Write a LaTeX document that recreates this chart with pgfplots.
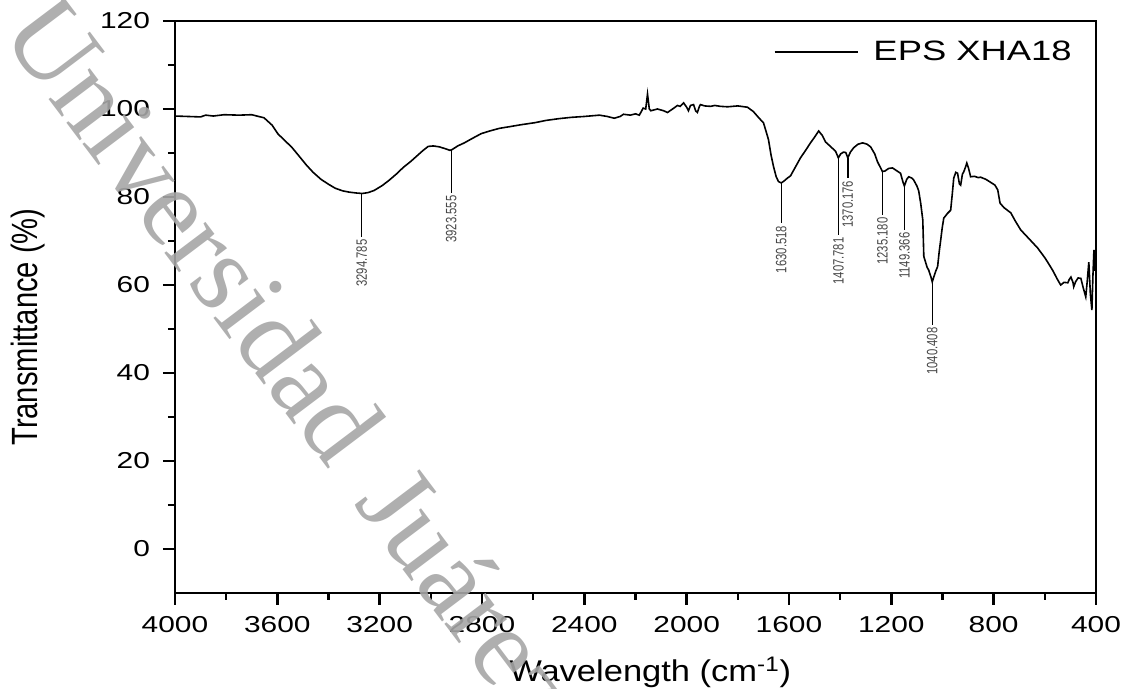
\documentclass[border=0pt]{standalone}
\usepackage{fontspec}
\usepackage{graphicx}
\setmainfont{Liberation Sans}[FakeStretch=1.3]
\newfontfamily\plainsans{Liberation Sans}
\newfontfamily\xlabfont{Liberation Sans}[FakeStretch=1.15]
\newfontfamily\lblfont{Liberation Sans}[FakeStretch=0.75]
\newfontfamily\wmfont{Liberation Serif}
\usepackage{pgfplots}
\usepackage{pgfplotstable}
\pgfplotsset{compat=1.18}

\definecolor{wmgray}{RGB}{166,166,166}
\definecolor{lblgray}{RGB}{70,70,70}

% FTIR spectrum (wavenumber, transmittance %)
\pgfplotstableread{
w t
4000 98.4
3950 98.3
3900 98.2
3880 98.6
3850 98.4
3808 98.7
3750 98.6
3700 98.7
3680 98.4
3652 98.0
3620 96.3
3597 94.3
3570 92.8
3542 91.2
3515 89.3
3487 87.3
3460 85.6
3429 84.0
3400 82.9
3374 82.0
3345 81.4
3319 81.1
3290 80.9
3268 80.8
3245 81.0
3221 81.5
3190 82.6
3163 83.8
3135 85.2
3108 86.7
3080 88.0
3053 89.4
3030 90.6
3010 91.5
2990 91.6
2967 91.4
2945 91.0
2925 90.6
2916 90.8
2895 91.6
2869 92.3
2835 93.4
2803 94.4
2770 95.0
2732 95.6
2690 96.0
2650 96.4
2592 96.9
2550 97.4
2500 97.8
2451 98.1
2400 98.3
2341 98.6
2310 98.3
2283 97.9
2260 98.3
2247 98.8
2220 98.6
2200 98.9
2185 98.6
2170 100.2
2160 100.0
2153 103.4
2146 100.0
2140 99.6
2114 100.0
2090 99.6
2075 99.2
2050 100.2
2036 100.8
2025 100.6
2012 101.4
2000 100.4
1993 99.6
1985 100.8
1973 101.0
1965 99.6
1958 99.2
1950 100.6
1946 101.0
1930 100.7
1907 100.6
1890 100.8
1868 100.6
1840 100.5
1800 100.7
1762 100.4
1739 99.4
1715 97.8
1700 96.9
1690 95.0
1680 93.0
1670 89.5
1660 86.8
1650 84.6
1641 83.5
1630 83.2
1620 83.6
1606 84.3
1594 84.8
1575 86.8
1555 88.9
1535 90.6
1516 92.3
1500 93.6
1484 95.0
1470 94.0
1457 92.5
1440 91.6
1418 90.4
1407 88.9
1398 89.8
1387 90.2
1378 90.1
1370 88.9
1360 90.2
1347 91.2
1330 92.0
1312 92.3
1295 92.0
1281 91.4
1265 89.8
1254 88.0
1240 86.4
1235 85.8
1225 85.9
1210 86.5
1195 86.6
1180 86.0
1164 85.4
1155 83.5
1149 82.5
1140 84.0
1132 84.6
1120 84.3
1113 83.9
1100 82.5
1093 81.4
1085 78.5
1077 74.8
1073 66.5
1060 64.0
1054 63.4
1045 61.8
1040 60.7
1033 62.0
1026 63.2
1019 64.2
1013 67.5
1007 70.2
1001 73.0
995 75.2
980 76.3
968 77.0
962 80.5
956 84.3
948 85.6
941 85.4
934 83.0
929 82.7
922 85.2
917 85.7
910 86.8
905 87.7
898 86.5
890 84.6
875 84.7
860 84.4
851 84.5
830 84.0
811 83.3
795 82.7
784 81.6
775 78.6
760 77.6
733 76.4
715 74.5
694 72.5
660 70.4
628 68.4
600 66.2
589 65.2
570 63.4
550 61.2
538 60.0
525 60.6
510 60.5
505 61.2
498 61.8
490 60.6
487 59.6
480 60.7
470 61.6
459 61.5
450 59.4
440 57.3
434 61.0
428 65.2
422 58.0
416 54.3
412 62.0
408 68.0
404 63.2
401 66.0
400 67.5
}\spectrum

\newcommand{\peak}[4]{%
  \draw[line width=0.7pt] (axis cs:#1,#2) -- (axis cs:#1,#3)
    node[rotate=90, anchor=east, inner sep=1pt, text=lblgray,
         font=\lblfont\fontsize{7.5}{8}\selectfont] {#4};}

\begin{document}
\begin{tikzpicture}
\begin{axis}[
    at={(87.5pt,48pt)}, anchor=south west,
    scale only axis,
    width=460.5pt, height=286pt,
    x dir=reverse,
    xmin=400, xmax=4000,
    ymin=-10, ymax=120,
    xtick={400,800,...,4000},
    ytick={0,20,...,120},
    minor x tick num=1,
    minor y tick num=1,
    tick align=outside,
    xtick pos=left, ytick pos=left,
    axis line style={line width=1.2pt},
    every tick/.style={black, line width=1.2pt},
    major tick length=6pt,
    minor tick length=3.5pt,
    /pgf/number format/assume math mode=true,
    /pgf/number format/1000 sep={},
    tick label style={font=\fontsize{11.5}{13}\selectfont},
    xticklabel style={yshift=-2pt},
    yticklabel style={xshift=-3pt},
    xlabel={Wavelength (cm\textsuperscript{-1})},
    ylabel={\scalebox{1}[1.25]{\plainsans Transmittance (\%)}},
    xlabel style={font=\xlabfont\fontsize{15}{17}\selectfont,
                  at={(axis description cs:0.516,-0.1556)}, anchor=base},
    ylabel style={font=\fontsize{14.6}{17}\selectfont,
                  at={(axis description cs:-0.16,0.465)}, anchor=center, rotate=0},
    legend style={at={(0.985,0.946)}, anchor=east, draw=none, fill=none,
                  font=\fontsize{14}{16}\selectfont},
    legend image code/.code={\draw[line width=0.8pt] (0pt,0pt) -- (41.5pt,0pt);
                             \path (47pt,0pt);},
]
\addplot[black, line width=0.8pt] table[x=w, y=t] {\spectrum};
\addlegendentry{EPS XHA18}

\peak{3270}{80.8}{70.9}{3294.785}
\peak{2920}{90.7}{80.9}{3923.555}
\peak{1630}{83.2}{74.0}{1630.518}
\peak{1407}{88.9}{71.4}{1407.781}
\peak{1370}{88.9}{84.3}{1370.176}
\peak{1235}{85.8}{75.9}{1235.180}
\peak{1149}{82.5}{72.5}{1149.366}
\peak{1040}{60.7}{50.9}{1040.408}
\end{axis}

\node[rotate=-53, anchor=base west, text=wmgray, opacity=0.9, inner sep=0pt,
      font=\wmfont\fontsize{56}{64}\selectfont] at (-0.5pt,328pt)
      {Universidad\hspace{0.37em}Juárez};

\pgfresetboundingbox
\useasboundingbox (0,0) rectangle (562.5pt,344.5pt);
\end{tikzpicture}
\end{document}
